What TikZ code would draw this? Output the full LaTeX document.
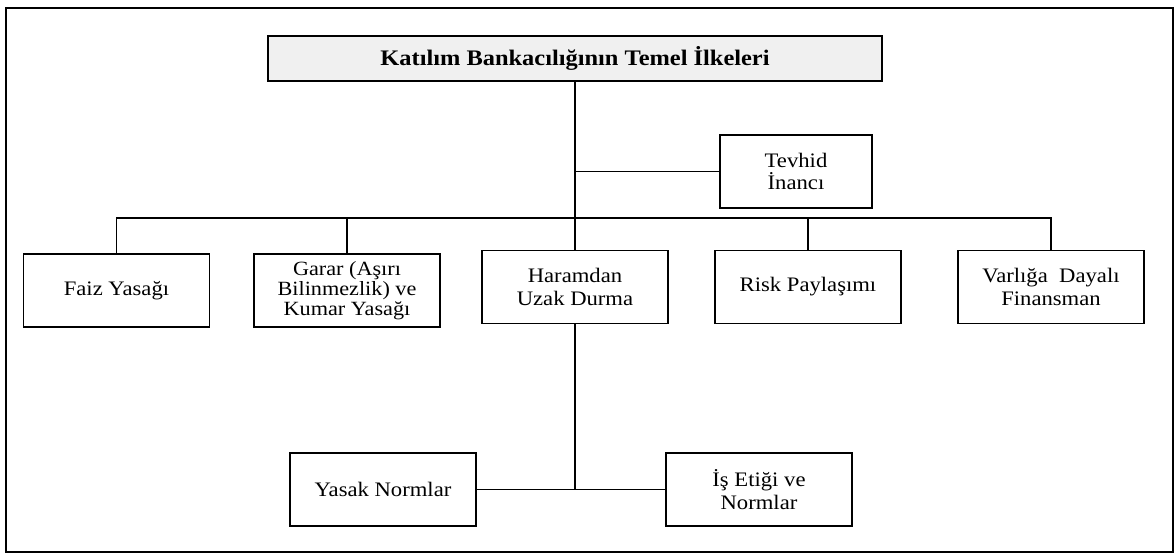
\documentclass[tikz,border=0pt]{standalone}
\usepackage{fontspec}
\setmainfont{Liberation Serif}[FakeStretch=1.1]
\usepackage{tikz}

\begin{document}
\begin{tikzpicture}
            [x=0.5pt,y=-0.5pt,line width=0.75pt,
             box/.style={draw,shape=rectangle,fill=white,align=center,inner sep=0,minimum width=93pt,minimum height=36.5pt,font=\fontsize{10.3}{11.2}\selectfont},
             titlebox/.style={box,fill=gray!12,minimum width=307pt,minimum height=22.5pt,font=\fontsize{11.1}{12}\selectfont\bfseries}]

            \useasboundingbox (0,0) rectangle (1175,554);
            \draw[line width=1.4pt] (6,8) rectangle (1173,552);

            \node[titlebox] (t) at (575, 58.5) {Katılım Bankacılığının Temel İlkeleri};
            \node[box,minimum width=76pt] (v0) at (796, 171.5) {Tevhid\\İnancı};
            \node[box] (v1) at (116.5, 290.5) {Faiz Yasağı};
            \node[box,font=\fontsize{10.1}{10}\selectfont] (v2) at (347, 290.5) {Garar (Aşırı\\Bilinmezlik) ve\\Kumar Yasağı};
            \node[box] (v3) at (575, 287) {Haramdan\\Uzak Durma};
            \node[box] (v4) at (808, 287) {Risk Paylaşımı};
            \node[box] (v5) at (1051, 287) {Varlığa\ \ Dayalı\\Finansman};
            \node[box] (v6) at (383, 489.5) {Yasak Normlar};
            \node[box] (v7) at (759, 489.5) {İş Etiği ve\\Normlar};

            \coordinate (bus) at (575, 218);

            \draw (t.south) -- (v3.north);
            \draw (t.south |- v0.west) -- (v0.west);
            \draw (v1.north) |- (bus) -| (v5.north);
            \draw (v2.north) -- (v2.north |- bus);
            \draw (v4.north) -- (v4.north |- bus);
            \draw (v3.south) -- (v3.south |- v6.east);
            \draw (v6.east) -- (v7.west);
          \end{tikzpicture}
\end{document}
